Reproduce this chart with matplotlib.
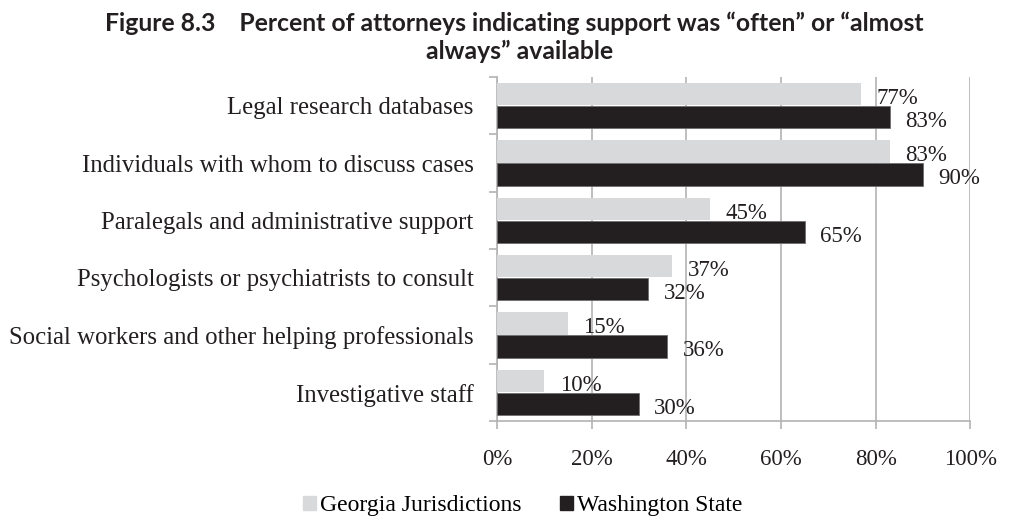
# Percent of attorneys indicating support was available - horizontal bar chart

import numpy as np
import matplotlib
matplotlib.use("Agg")
import matplotlib.pyplot as plt
from matplotlib.patches import Patch

# Data

categories = [
    "Legal research databases",
    "Individuals with whom to discuss cases",
    "Paralegals and administrative support",
    "Psychologists or psychiatrists to consult",
    "Social workers and other helping professionals",
    "Investigative staff",
]
georgia = [77, 83, 45, 37, 15, 10]
washington = [83, 90, 65, 32, 36, 30]
series_names = ["Georgia Jurisdictions", "Washington State"]
x_ticks = [0, 20, 40, 60, 80, 100]

grey = "#d8d9da"
black = "#231f20"
line_grey = "#b3b3b3"
serif = "Liberation Serif"

fig = plt.figure(figsize=(10.29, 5.2), dpi=100)
ax = fig.add_axes([0.483, 0.190, 0.460, 0.662])

y = np.arange(len(categories))
h = 0.39
ax.barh(y - 0.2, georgia, height=h, color=grey, zorder=3)
ax.barh(y + 0.2, washington, height=h, color=black, edgecolor="#6e6e6e",
        linewidth=0.6, zorder=3)

# data labels
for i in range(len(categories)):
    ax.annotate(f"{georgia[i]}%", (georgia[i], y[i] - 0.2), xytext=(11, -3),
                textcoords="offset points", va="center", ha="left",
                fontsize=16.5, family=serif, color=black)
    ax.annotate(f"{washington[i]}%", (washington[i], y[i] + 0.2), xytext=(11, -3),
                textcoords="offset points", va="center", ha="left",
                fontsize=16.5, family=serif, color=black)

ax.set_xlim(0, 100)
ax.set_ylim(len(categories) - 0.5, -0.5)
ax.set_xticks(x_ticks)
ax.set_xticklabels([f"{t}%" for t in x_ticks], family=serif, fontsize=16.5, color=black)
ax.set_yticks(y)
ax.set_yticklabels(categories, family=serif, fontsize=17.8, color=black)
ax.set_yticks(np.arange(-0.5, len(categories)), minor=True)
ax.tick_params(axis="y", which="major", length=0, pad=17)
ax.tick_params(axis="y", which="minor", length=6, color=line_grey, width=1.2)
ax.tick_params(axis="x", length=6, color=line_grey, width=1.2, pad=14)

ax.grid(axis="x", color=line_grey, linewidth=1.2, zorder=0)
for side in ["top", "right"]:
    ax.spines[side].set_visible(False)
for side in ["left", "bottom"]:
    ax.spines[side].set_color(line_grey)
    ax.spines[side].set_linewidth(1.2)

fig.text(0.50, 0.955, "Figure 8.3    Percent of attorneys indicating support was \u201coften\u201d or \u201calmost",
         ha="center", va="center", fontsize=17.8, fontweight="bold", family="Lato", color=black)
fig.text(0.505, 0.902, "always\u201d available",
         ha="center", va="center", fontsize=17.8, fontweight="bold", family="Lato", color=black)

handles = [Patch(color=grey), Patch(color=black)]
fig.legend(handles, series_names, loc="center", bbox_to_anchor=(0.508, 0.027), ncol=2,
           frameon=False, handlelength=0.55, handleheight=0.55, handletextpad=0.2,
           columnspacing=1.6, prop={"family": serif, "size": 17})

plt.savefig("out.png", dpi=100)
